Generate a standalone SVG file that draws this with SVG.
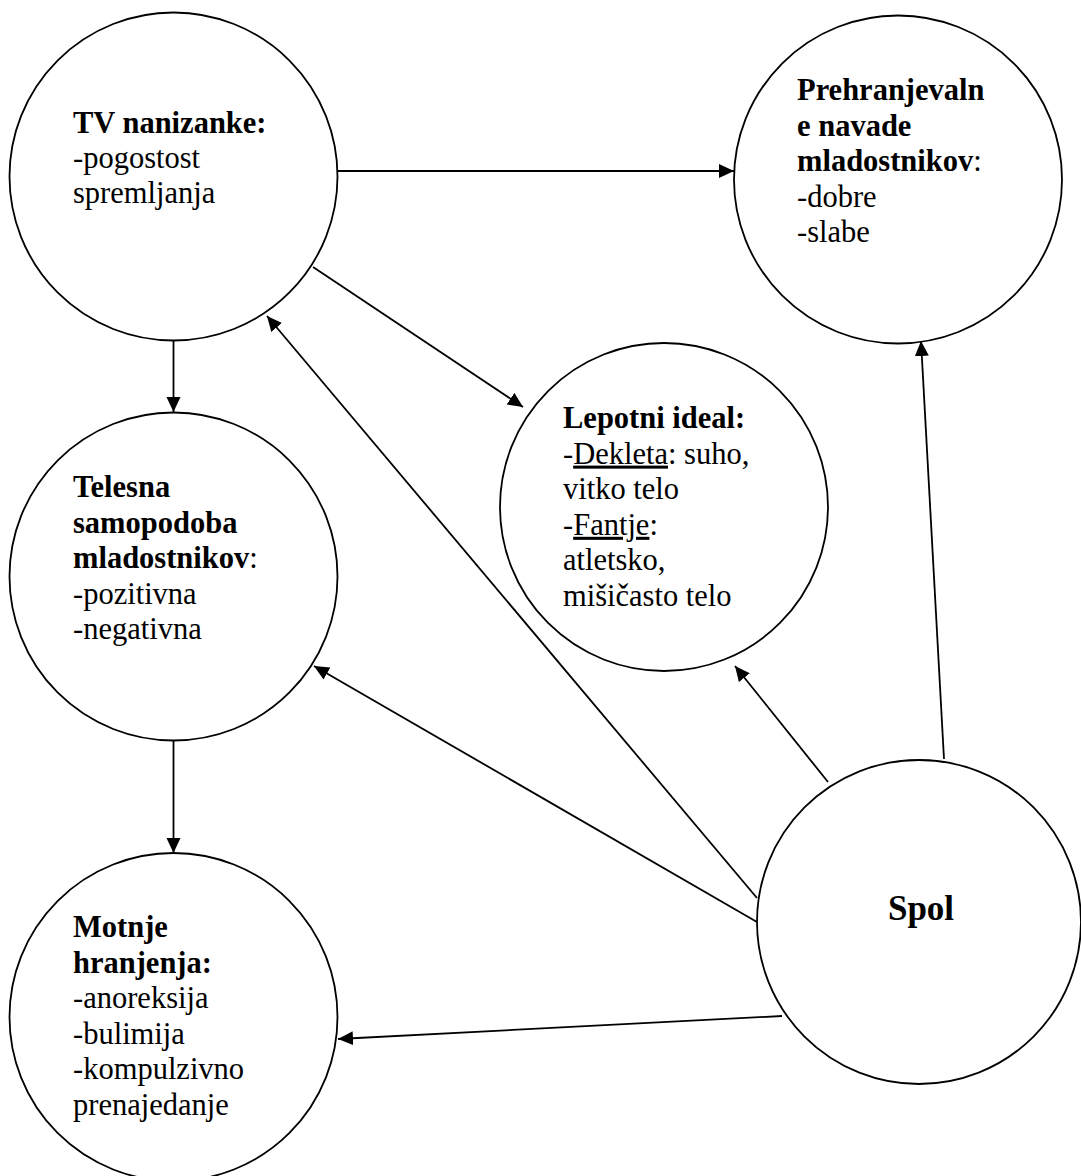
<svg xmlns="http://www.w3.org/2000/svg" width="1081" height="1176" viewBox="0 0 1081 1176">
<style>
.node circle{fill:#fff;stroke:#000;stroke-width:1.8}
text{font-family:"Liberation Serif","Times New Roman",serif;font-size:30.5px;fill:#000}
.b{font-weight:bold}
.u{text-decoration:underline}
#connectors line{stroke:#000;stroke-width:1.8;marker-end:url(#ah)}
</style>
<defs>
<marker id="ah" markerUnits="userSpaceOnUse" markerWidth="16" markerHeight="15" refX="15" refY="7" orient="auto">
<path d="M0,0 L15,7 L0,14 z" fill="#000"/>
</marker>
</defs>
<rect width="1081" height="1176" fill="#fff"/>
<g id="connectors">
<line x1="337" y1="171" x2="734" y2="171"/>
<line x1="313" y1="267" x2="523" y2="407"/>
<line x1="173.5" y1="340.5" x2="173.5" y2="412"/>
<line x1="173.5" y1="740.5" x2="173.5" y2="853"/>
<line x1="757" y1="898" x2="267" y2="316"/>
<line x1="757" y1="922" x2="314" y2="666"/>
<line x1="828" y1="782" x2="735" y2="666"/>
<line x1="944" y1="759" x2="921" y2="341"/>
<line x1="782" y1="1016" x2="338" y2="1039"/>
</g>
<g id="tv" class="node">
<circle cx="173.5" cy="176.5" r="164"/>
<text x="73" y="133" class="b">TV nanizanke:</text>
<text x="73" y="168">-pogostost</text>
<text x="73" y="203">spremljanja</text>
</g>
<g id="prehrana" class="node">
<circle cx="898" cy="179.5" r="164"/>
<text x="797" y="100" class="b">Prehranjevaln</text>
<text x="797" y="135.6" class="b">e navade</text>
<text x="797" y="171.2"><tspan class="b">mladostnikov</tspan>:</text>
<text x="797" y="206.8">-dobre</text>
<text x="797" y="242.4">-slabe</text>
</g>
<g id="lepotni" class="node">
<circle cx="664" cy="507" r="164"/>
<text x="563" y="428" class="b">Lepotni ideal:</text>
<text x="563" y="463.6">-<tspan class="u">Dekleta</tspan>: suho,</text>
<text x="563" y="499.2">vitko telo</text>
<text x="563" y="534.8">-<tspan class="u">Fantje</tspan>:</text>
<text x="563" y="570.4">atletsko,</text>
<text x="563" y="606">mišičasto telo</text>
</g>
<g id="telesna" class="node">
<circle cx="173.5" cy="576.5" r="164"/>
<text x="73" y="497" class="b">Telesna</text>
<text x="73" y="532.6" class="b">samopodoba</text>
<text x="73" y="568.2"><tspan class="b">mladostnikov</tspan>:</text>
<text x="73" y="603.8">-pozitivna</text>
<text x="73" y="639.4">-negativna</text>
</g>
<g id="motnje" class="node">
<circle cx="173.5" cy="1017" r="164"/>
<text x="73" y="937" class="b">Motnje</text>
<text x="73" y="972.6" class="b">hranjenja:</text>
<text x="73" y="1008.2">-anoreksija</text>
<text x="73" y="1043.8">-bulimija</text>
<text x="73" y="1079.4">-kompulzivno</text>
<text x="73" y="1115">prenajedanje</text>
</g>
<g id="spol" class="node">
<circle cx="919" cy="922" r="162"/>
<text x="921" y="920" class="b" text-anchor="middle" style="font-size:35px">Spol</text>
</g>
</svg>
